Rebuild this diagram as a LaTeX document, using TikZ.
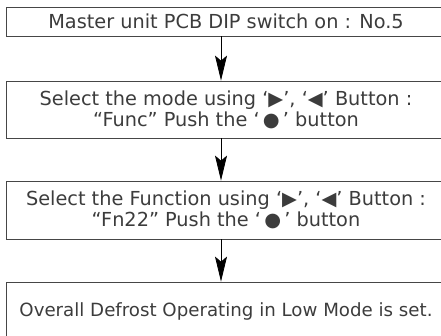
\documentclass[tikz,border=0pt]{standalone}
\usepackage{fontspec}
\setmainfont{DejaVu Sans}
\definecolor{FlowText}{RGB}{60,60,60}
\definecolor{FlowLine}{RGB}{70,70,70}
\usetikzlibrary{arrows.meta,positioning}

\begin{document}
\begin{tikzpicture}[x=1pt,y=-1pt,
    every node/.style={font=\fontsize{19.3}{21}\selectfont,text=FlowText},
    stepbox/.style={draw=FlowLine,line width=0.8pt,rectangle,
      minimum width=440pt,inner sep=0pt,align=center},
    flow/.style={-{Stealth[length=25pt,width=12pt,inset=5pt]},line width=0.8pt}]
  \useasboundingbox (0,0) rectangle (441,336);
  \clip (0,0) rectangle (441,336);
  \node[stepbox,minimum height=29pt] (S1) at (226,21.5)
    {Master unit PCB DIP switch on : No.5};
  \node[stepbox,minimum height=57pt] (S2) at (226,109.5)
    {Select the mode using ‘▶’, ‘◀’ Button :\\“Func” Push the ‘\,●\,’ button};
  \node[stepbox,minimum height=58pt] (S3) at (226,210)
    {Select the Function using ‘▶’, ‘◀’ Button :\\“Fn22” Push the ‘\,●\,’ button};
  \node[stepbox,minimum height=58pt,font=\fontsize{18.2}{21}\selectfont]
    (S4) at (226,311) {Overall Defrost Operating in Low Mode is set.};
  \draw[flow] ([xshift=-5pt]S1.south) -- ([xshift=-5pt]S2.north);
  \draw[flow] ([xshift=-5pt]S2.south) -- ([xshift=-5pt]S3.north);
  \draw[flow] ([xshift=-5pt]S3.south) -- ([xshift=-5pt]S4.north);
\end{tikzpicture}
\end{document}
